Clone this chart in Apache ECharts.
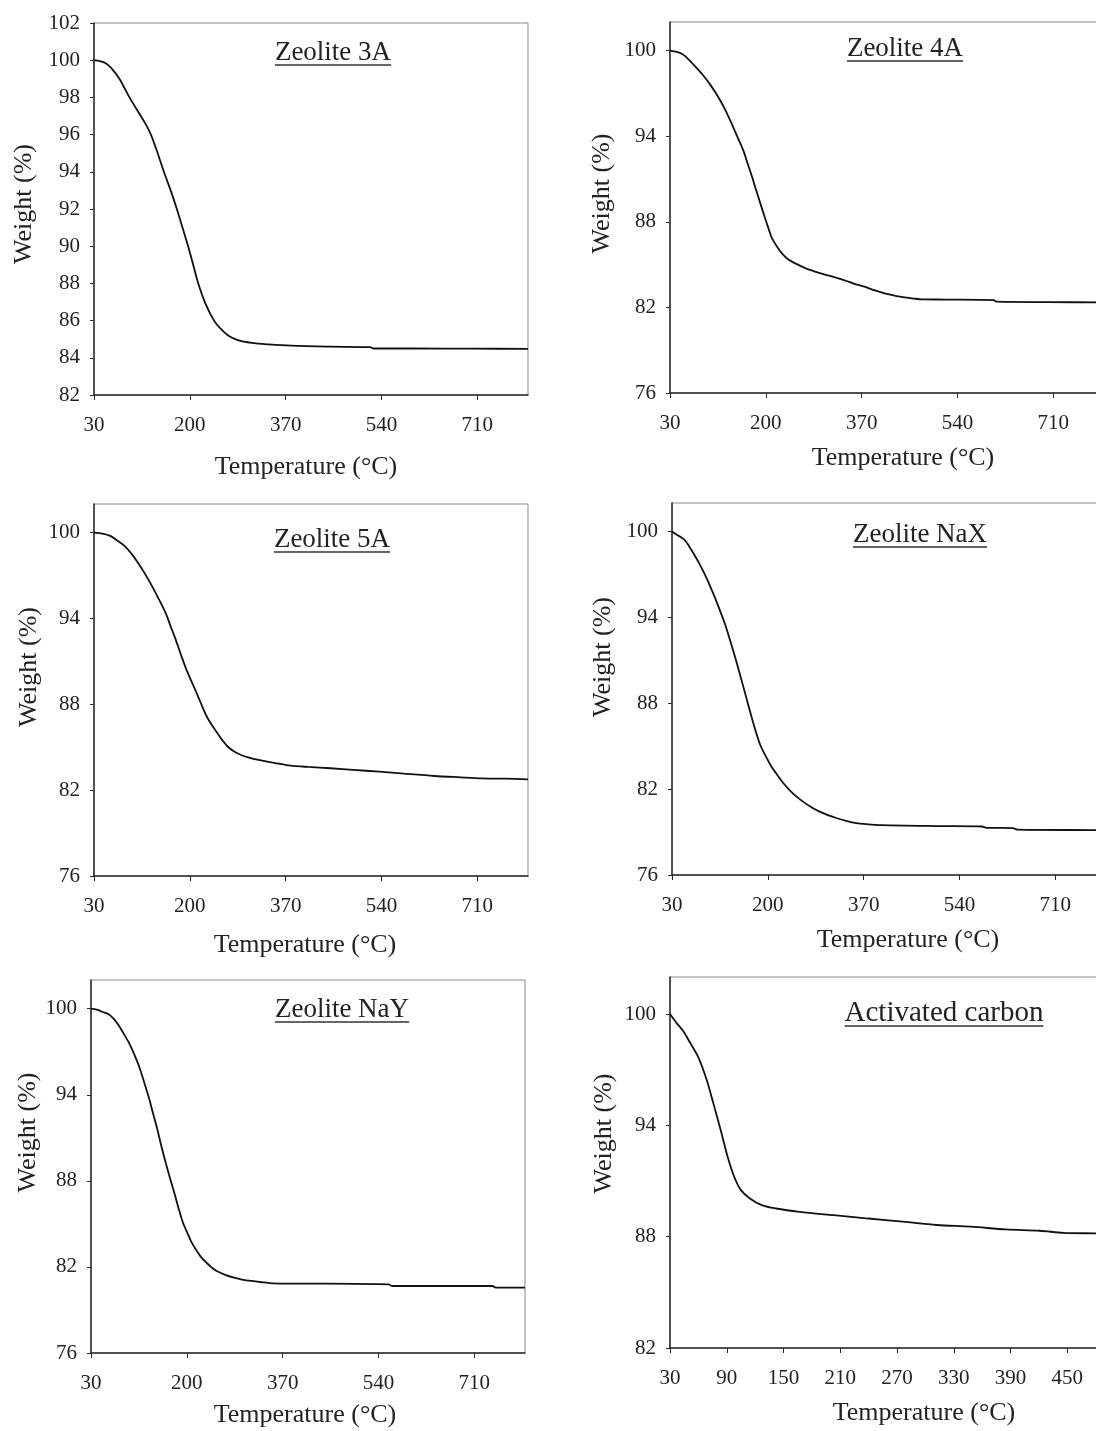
<!DOCTYPE html>
<html>
<head>
<meta charset="utf-8">
<script src="https://cdn.jsdelivr.net/npm/echarts@6/dist/echarts.min.js"></script>
<style>
html,body{margin:0;padding:0;background:#ffffff;overflow:hidden}
#c{width:1140px;height:1431px}
</style>
</head>
<body>
<div id="c"></div>
<script>
// ---------------- data ----------------
const titles = ['Zeolite 3A', 'Zeolite 4A', 'Zeolite 5A', 'Zeolite NaX', 'Zeolite NaY', 'Activated carbon'];
const xName = 'Temperature (°C)';
const yName = 'Weight (%)';

const xTicksZeolite = [30, 200, 370, 540, 710];
const xTicksCarbon = [30, 90, 150, 210, 270, 330, 390, 450];
const yTicks3A = [82, 84, 86, 88, 90, 92, 94, 96, 98, 100, 102];
const yTicksZeolite = [76, 82, 88, 94, 100];
const yTicksCarbon = [82, 88, 94, 100];

const temp3A = [30, 40, 50, 60, 75, 93, 112, 122, 131, 143, 154, 166, 177, 187, 197, 206, 215, 228, 243, 255, 268, 285, 310, 340, 380, 450, 520, 525, 600, 700, 800];
const weight3A = [100, 99.95, 99.85, 99.6, 99.0, 98.0, 97.05, 96.55, 96.0, 95.0, 94.0, 93.0, 92.0, 91.0, 90.0, 89.0, 88.0, 86.9, 86.0, 85.55, 85.2, 84.95, 84.8, 84.72, 84.65, 84.6, 84.57, 84.5, 84.5, 84.49, 84.48];

const temp4A = [30, 42, 53, 65, 77, 89, 101, 114, 126, 138, 150, 160, 168, 176, 183, 191, 198, 205, 210, 220, 229, 240, 253, 270, 289, 305, 320, 340, 356, 375, 392, 405, 416, 430, 447, 462, 477, 520, 604, 610, 700, 800];
const weight4A = [100, 99.9, 99.72, 99.3, 98.79, 98.25, 97.63, 96.85, 96.0, 95.0, 93.91, 93.0, 92.05, 91.1, 90.19, 89.2, 88.33, 87.5, 86.93, 86.25, 85.77, 85.35, 85.07, 84.75, 84.49, 84.3, 84.14, 83.9, 83.67, 83.45, 83.21, 83.05, 82.93, 82.8, 82.7, 82.62, 82.56, 82.55, 82.51, 82.4, 82.37, 82.35];

const temp5A = [30, 45, 59, 71, 84, 96, 108, 120, 133, 145, 157, 166, 175, 184, 194, 203, 212, 221, 230, 240, 249, 258, 267, 278, 291, 305, 322, 337, 353, 368, 383, 410, 450, 490, 536, 580, 634, 680, 719, 760, 800];
const weight5A = [100, 99.93, 99.77, 99.45, 99.07, 98.55, 97.9, 97.15, 96.26, 95.35, 94.39, 93.45, 92.52, 91.5, 90.42, 89.6, 88.79, 87.95, 87.15, 86.5, 85.98, 85.48, 85.05, 84.72, 84.46, 84.28, 84.11, 83.99, 83.88, 83.78, 83.69, 83.62, 83.53, 83.42, 83.29, 83.15, 82.99, 82.9, 82.83, 82.8, 82.76];

const tempNaX = [30, 40, 51, 60, 69, 78, 88, 97, 106, 115, 124, 133, 142, 151, 160, 169, 178, 187, 197, 206, 215, 227, 239, 251, 263, 278, 293, 309, 324, 339, 354, 375, 402, 500, 580, 588, 635, 643, 778, 800];
const weightNaX = [100, 99.75, 99.47, 99.0, 98.42, 97.8, 97.03, 96.25, 95.4, 94.5, 93.54, 92.4, 91.22, 89.95, 88.66, 87.35, 86.11, 85.05, 84.25, 83.6, 83.09, 82.45, 81.92, 81.48, 81.11, 80.72, 80.41, 80.15, 79.95, 79.78, 79.65, 79.55, 79.48, 79.42, 79.39, 79.3, 79.28, 79.17, 79.14, 79.13];

const tempNaY = [30, 40, 51, 62, 70, 79, 88, 97, 106, 116, 125, 133, 140, 148, 155, 163, 171, 179, 186, 193, 201, 208, 216, 225, 235, 244, 253, 268, 284, 298, 314, 330, 351, 558, 564, 742, 748, 800];
const weightNaY = [100, 99.93, 99.77, 99.6, 99.31, 98.85, 98.26, 97.65, 96.88, 95.9, 94.79, 93.75, 92.71, 91.55, 90.39, 89.2, 88.08, 87.0, 86.0, 85.1, 84.38, 83.75, 83.22, 82.7, 82.29, 81.97, 81.71, 81.45, 81.25, 81.12, 81.02, 80.95, 80.86, 80.79, 80.67, 80.67, 80.56, 80.56];

const tempCarbon = [30, 36.5, 43.8, 51, 60, 69, 76, 83.7, 91, 98, 105, 114.5, 127, 142, 167, 203, 240, 276, 312, 348, 385, 421, 446, 479, 510];
const weightCarbon = [100, 99.55, 99.1, 98.48, 97.67, 96.42, 95.16, 93.73, 92.3, 91.22, 90.51, 90.06, 89.7, 89.52, 89.34, 89.16, 88.98, 88.81, 88.63, 88.54, 88.39, 88.32, 88.21, 88.18, 88.15];

const temps = [temp3A, temp4A, temp5A, tempNaX, tempNaY, tempCarbon];
const weights = [weight3A, weight4A, weight5A, weightNaX, weightNaY, weightCarbon];
const xTicks = [xTicksZeolite, xTicksZeolite, xTicksZeolite, xTicksZeolite, xTicksZeolite, xTicksCarbon];
const yTicks = [yTicks3A, yTicksZeolite, yTicksZeolite, yTicksZeolite, yTicksZeolite, yTicksCarbon];

// ---------------- layout (positions / scales) ----------------
const layout = [
  {left: 94, top: 23, width: 434, height: 372, xMin: 30, xMax: 800, xInt: 170, yMin: 82, yMax: 102, yInt: 2,
   tx: 333, ty: 53, uy: 65, tfs: 27, gx: 59, sx: -5, gy: 57, sy: 5},
  {left: 670, top: 22, width: 434, height: 371, xMin: 30, xMax: 800, xInt: 170, yMin: 76, yMax: 102, yInt: 6,
   tx: 905, ty: 49, uy: 61, tfs: 27, gx: 52, sx: 16, gy: 55, sy: 14},
  {left: 94, top: 504, width: 434, height: 372, xMin: 30, xMax: 800, xInt: 170, yMin: 76, yMax: 102, yInt: 6,
   tx: 332, ty: 540, uy: 552, tfs: 27, gx: 56, sx: -6, gy: 52, sy: 23},
  {left: 672, top: 503, width: 434, height: 372, xMin: 30, xMax: 800, xInt: 170, yMin: 76, yMax: 102, yInt: 6,
   tx: 920, ty: 535, uy: 547, tfs: 27, gx: 52, sx: 19, gy: 56, sy: 32},
  {left: 91, top: 980, width: 434, height: 373, xMin: 30, xMax: 800, xInt: 170, yMin: 76, yMax: 102, yInt: 6,
   tx: 342, ty: 1010, uy: 1022, tfs: 27, gx: 49, sx: -3, gy: 50, sy: 34},
  {left: 670, top: 977, width: 454, height: 371, xMin: 30, xMax: 510, xInt: 60, yMin: 82, yMax: 102, yInt: 6,
   tx: 944, ty: 1013, uy: 1026, tfs: 29, gx: 52, sx: 27, gy: 53, sy: 29}
];

const FONT = '"Liberation Serif", "Times New Roman", serif';
const TXT = '#222';
const AX = '#2a2a2a';

function pad(shift) {
  return shift >= 0 ? [0, 0, 0, 2 * shift] : [0, -2 * shift, 0, 0];
}

const measureCtx = document.createElement('canvas').getContext('2d');
function textWidth(str, size) {
  measureCtx.font = size + 'px ' + FONT;
  return measureCtx.measureText(str).width;
}

const grids = [], xAxes = [], yAxes = [], series = [], graphics = [];

layout.forEach((L, i) => {
  grids.push({
    left: L.left, top: L.top, width: L.width, height: L.height,
    show: true, borderColor: '#8a8a8a', borderWidth: 1, backgroundColor: 'transparent'
  });
  xAxes.push({
    type: 'value', gridIndex: i, min: L.xMin, max: L.xMax, interval: L.xInt,
    axisLine: {show: true, onZero: false, lineStyle: {color: AX, width: 1.5}},
    axisTick: {show: true, length: 5, customValues: xTicks[i], lineStyle: {color: AX, width: 1}},
    axisLabel: {customValues: xTicks[i], margin: 20,
      fontFamily: FONT, fontSize: 21, color: TXT},
    splitLine: {show: false},
    name: xName, nameLocation: 'middle', nameGap: L.gx,
    nameTextStyle: {fontFamily: FONT, fontSize: 26, color: TXT, padding: pad(L.sx)}
  });
  yAxes.push({
    type: 'value', gridIndex: i, min: L.yMin, max: L.yMax, interval: L.yInt,
    axisLine: {show: true, onZero: false, lineStyle: {color: AX, width: 1.5}},
    axisTick: {show: true, length: 4, customValues: yTicks[i], lineStyle: {color: AX, width: 1}},
    axisLabel: {customValues: yTicks[i], margin: 14,
      fontFamily: FONT, fontSize: 21, color: TXT},
    splitLine: {show: false},
    name: yName, nameLocation: 'middle', nameGap: L.gy,
    nameTextStyle: {fontFamily: FONT, fontSize: 26, color: TXT, padding: pad(L.sy)}
  });
  series.push({
    type: 'line', name: titles[i], xAxisIndex: i, yAxisIndex: i,
    data: temps[i].map((t, k) => [t, weights[i][k]]),
    showSymbol: false, symbol: 'none', smooth: 0.3, clip: true,
    lineStyle: {color: '#111', width: 1.8}, silent: true
  });
  const w = textWidth(titles[i], L.tfs);
  graphics.push({
    type: 'text', x: L.tx, y: L.ty,
    style: {text: titles[i], fontFamily: FONT, fontSize: L.tfs, fill: TXT,
      textAlign: 'center', textVerticalAlign: 'middle'}
  });
  graphics.push({
    type: 'line',
    shape: {x1: L.tx - w / 2, y1: L.uy, x2: L.tx + w / 2, y2: L.uy},
    style: {stroke: '#333', lineWidth: 1.5}
  });
});

const chart = echarts.init(document.getElementById('c'), null, {renderer: 'canvas'});
chart.setOption({
  backgroundColor: '#ffffff',
  animation: false,
  grid: grids,
  xAxis: xAxes,
  yAxis: yAxes,
  series: series,
  graphic: graphics
});
</script>
</body>
</html>
